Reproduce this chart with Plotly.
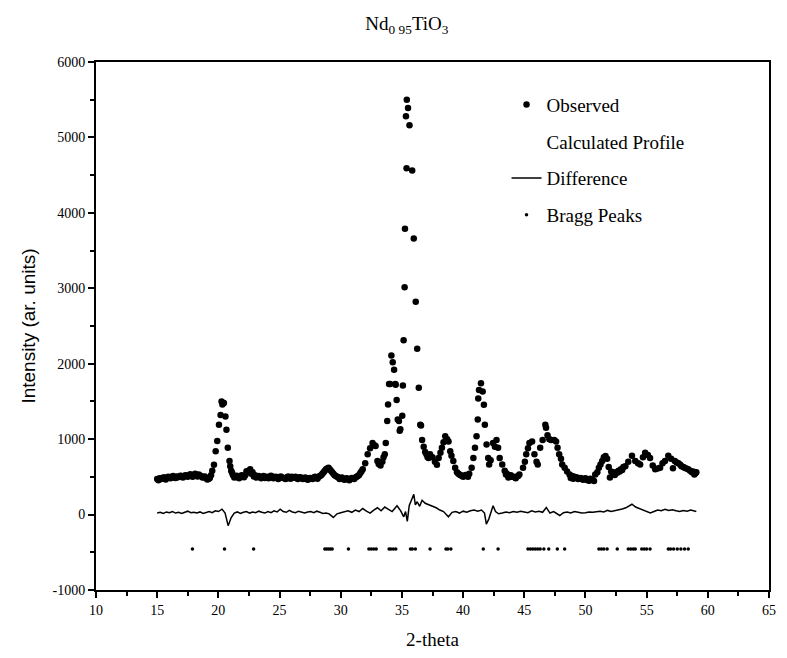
import plotly.graph_objects as go

# ---------------- data ----------------
obs_two_theta = [
    15.0, 15.2, 15.4, 15.6, 15.8, 16.0, 16.2, 16.4, 16.6, 16.8, 17.0, 17.2, 17.4, 17.6, 17.8,
    18.0, 18.2, 18.4, 18.6, 18.8, 19.0, 19.2, 19.4, 19.5,
    19.64, 19.78, 19.91, 20.05, 20.18, 20.26, 20.33, 20.45, 20.58, 20.66, 20.77, 20.91, 20.97,
    21.05, 21.12, 21.2, 21.4, 21.6, 21.8, 22.0, 22.2, 22.4, 22.6, 22.8, 23.0, 23.2, 23.4, 23.6,
    23.8, 24.0, 24.2, 24.4, 24.6, 24.8, 25.0, 25.2, 25.4, 25.6, 25.8, 26.0, 26.2, 26.4, 26.6,
    26.8, 27.0, 27.2, 27.4, 27.6, 27.8, 28.0, 28.2, 28.4, 28.6, 28.8, 29.0, 29.2, 29.4, 29.6,
    29.8, 30.0, 30.2, 30.4, 30.6, 30.8, 31.0, 31.2, 31.4, 31.6, 31.8, 32.0, 32.2, 32.4, 32.6,
    32.75, 32.85, 33.0, 33.1, 33.25, 33.4, 33.5, 33.6, 33.68, 33.8, 33.87, 33.95, 34.03, 34.14,
    34.25, 34.36, 34.46, 34.49, 34.57, 34.66, 34.76, 34.82, 34.87, 35.03, 35.08, 35.14, 35.22,
    35.25, 35.33, 35.38, 35.40, 35.50, 35.62, 35.84, 35.97, 36.13, 36.25, 36.38, 36.50, 36.56,
    36.65, 36.78, 36.9, 37.0, 37.1, 37.18, 37.3, 37.5, 37.7, 37.86, 38.0, 38.15, 38.27, 38.4,
    38.54, 38.7, 38.81, 38.95, 39.05, 39.2, 39.35, 39.5, 39.7, 39.9, 40.1, 40.3, 40.5, 40.7,
    40.84, 40.97, 41.1, 41.2, 41.24, 41.3, 41.46, 41.6, 41.7, 41.78, 41.92, 42.05, 42.13, 42.25,
    42.45, 42.6, 42.73, 42.86, 42.99, 43.2, 43.4, 43.6, 43.8, 44.0, 44.2, 44.35, 44.6, 44.9,
    45.05, 45.16, 45.3, 45.42, 45.64, 45.83, 46.0, 46.1, 46.3, 46.5, 46.72, 46.78, 46.9, 47.05,
    47.2, 47.45, 47.6, 47.72, 47.85, 48.0, 48.1, 48.3, 48.5, 48.7, 48.9, 49.1, 49.3, 49.5, 49.7,
    49.9, 50.1, 50.3, 50.55, 50.8, 50.97, 51.1, 51.23, 51.37, 51.5, 51.64, 51.77, 51.9, 52.1,
    52.3, 52.5, 52.7, 52.9, 53.1, 53.26, 53.5, 53.8, 54.07, 54.3, 54.47, 54.7, 54.88, 55.1,
    55.28, 55.5, 55.7, 55.9, 56.1, 56.3, 56.5, 56.77, 57.0, 57.3, 57.6, 57.85, 58.1, 58.4,
    58.7, 58.9, 59.06,
    # extra background readings (band is dense)
    15.1, 15.3, 15.5, 15.7, 15.9, 16.1, 16.3, 16.5, 16.7, 16.9, 17.1, 17.3, 17.5, 17.7, 17.9,
    18.1, 18.3, 18.5, 18.7, 18.9, 19.1, 19.3,
    21.3, 21.5, 21.7, 21.9, 22.1, 22.3, 22.5, 22.7, 22.9, 23.1, 23.3, 23.5, 23.7, 23.9, 24.1,
    24.3, 24.5, 24.7, 24.9, 25.1, 25.3, 25.5, 25.7, 25.9, 26.1, 26.3, 26.5, 26.7, 26.9, 27.1,
    27.3, 27.5, 27.7, 27.9, 28.1, 28.3, 28.5, 28.7, 28.9, 29.1, 29.3, 29.5, 29.7, 29.9, 30.1,
    30.3, 30.5, 30.7, 30.9, 31.1, 31.3, 31.5, 31.7, 39.6, 39.8, 40.0, 40.2, 40.4, 43.5, 43.7,
    43.9, 44.1, 44.3, 44.5, 48.8, 49.0, 49.2, 49.4, 49.6, 49.8, 50.0, 50.2, 50.4, 50.7,
    52.0, 52.2, 52.4, 52.6, 52.8, 53.0, 57.15, 57.45, 57.75, 58.0, 58.25, 58.55, 58.8, 59.0,
]
obs_intensity = [
    470, 480, 475, 490, 485, 495, 500, 490, 505, 500, 510, 505, 515, 520, 510,
    525, 515, 530, 510, 495, 480, 470, 520, 580,
    660, 840, 975, 1190, 1320, 1500, 1460, 1480, 1300, 1125, 885, 710, 640,
    580, 555, 520, 505, 490, 500, 510, 520, 560, 600, 560, 520, 505, 495, 500,
    485, 500, 490, 505, 495, 485, 495, 490, 480, 495, 485, 500, 490, 480, 490,
    485, 475, 480, 470, 480, 490, 485, 500, 520, 560, 600, 620, 580, 540, 510,
    495, 480, 470, 475, 465, 470, 480, 490, 510, 550, 600, 680, 800, 880, 950,
    920, 910, 710, 670, 650, 700, 760, 800, 950, 1240, 1460, 1730, 1730, 2110,
    2020, 1920, 1730, 1720, 1520, 1260, 1240, 1110, 1130, 1310, 1710, 2310, 3015,
    3790, 5280, 4590, 5500, 5390, 5160, 4560, 3660, 2820, 2200, 1680, 1190, 1180,
    990, 900, 830, 800, 760, 750, 800, 760, 700, 660, 750, 820, 885, 960,
    1040, 1000, 970, 840, 780, 710, 620, 560, 530, 515, 510, 515, 540, 620,
    750, 885, 1040, 1260, 1540, 1650, 1740, 1630, 1455, 1190, 930, 750, 665, 720,
    950, 900, 990, 885, 750, 665, 580, 540, 510, 500, 495, 500, 530, 620,
    700, 800, 880, 950, 970, 800, 700, 665, 885, 990, 1190, 1150, 1050, 1000,
    990, 990, 970, 885, 800, 740, 665, 620, 570, 530, 510, 500, 490, 480, 475,
    470, 460, 450, 460, 530, 560, 620, 665, 710, 760, 775, 740, 630, 570,
    540, 560, 580, 600, 630, 640, 700, 780, 710, 680, 665, 760, 820, 790,
    750, 650, 600, 610, 620, 680, 710, 780, 740, 710, 680, 640, 620, 600,
    560, 530, 560,
    # extra background readings
    455, 470, 490, 465, 500, 480, 510, 485, 495, 515, 490, 520, 500, 535, 500,
    540, 505, 515, 490, 505, 465, 485,
    490, 515, 480, 520, 495, 575, 580, 540, 505, 490, 510, 480, 510, 495, 480,
    515, 480, 500, 470, 505, 485, 470, 505, 475, 490, 500, 470, 495, 470, 490,
    460, 485, 470, 500, 475, 510, 540, 580, 610, 600, 560, 520, 500, 470, 490,
    460, 480, 455, 485, 470, 500, 525, 575, 545, 520, 500, 525, 500, 530, 490,
    520, 500, 480, 510, 485, 475, 495, 470, 485, 460, 480, 455, 475, 445, 490,
    560, 525, 555, 570, 590, 615, 690, 660, 630, 610, 580, 570, 550, 540,
]

diff_two_theta = [
    15.0, 15.25, 15.5, 15.75, 16.0, 16.25, 16.5, 16.75, 17.0, 17.25, 17.5, 17.75, 18.0, 18.25,
    18.5, 18.75, 19.0, 19.25, 19.5, 19.75, 20.0, 20.3, 20.55, 20.8, 21.05, 21.3, 21.55, 21.8,
    22.05, 22.3, 22.55, 22.8, 23.05, 23.3, 23.55, 23.8, 24.05, 24.3, 24.55, 24.8, 25.05, 25.3,
    25.55, 25.8, 26.05, 26.3, 26.55, 26.8, 27.05, 27.3, 27.55, 27.8, 28.05, 28.3, 28.55, 28.8,
    29.05, 29.4, 29.7, 30.0, 30.3, 30.6, 30.9, 31.2, 31.5, 31.8, 32.1, 32.4, 32.7, 33.0, 33.3,
    33.6, 33.9, 34.2, 34.6, 34.9, 35.15, 35.3, 35.44, 35.6, 35.8, 35.97, 36.1, 36.25, 36.45,
    36.65, 36.9, 37.2, 37.5, 37.8, 38.1, 38.4, 38.8, 39.1, 39.4, 39.7, 40.0, 40.3, 40.6, 40.9,
    41.2, 41.5, 41.75, 41.9, 42.1, 42.3, 42.45, 42.65, 42.9, 43.2, 43.5, 43.8, 44.1, 44.4,
    44.7, 45.0, 45.3, 45.6, 45.9, 46.2, 46.5, 46.8, 47.1, 47.4, 47.65, 47.9, 48.2, 48.5, 48.8,
    49.1, 49.4, 49.7, 50.0, 50.3, 50.6, 50.9, 51.2, 51.5, 51.8, 52.1, 52.4, 52.7, 53.0, 53.3,
    53.55, 53.8, 54.1, 54.4, 54.7, 55.0, 55.3, 55.6, 55.9, 56.2, 56.5, 56.8, 57.1, 57.4, 57.7,
    58.0, 58.3, 58.6, 58.9, 59.06,
]
diff_intensity = [
    20, 30, 15, 35, 25, 40, 20, 30, 15, 35, 45, 25, 30, 20,
    35, 15, 30, 40, 25, 50, 40, 72, 20, -147, -40, 20, 35, 15,
    30, 40, 20, 35, 25, 45, 30, 20, 40, 25, 50, 35, 72, 40,
    30, 55, 35, 25, 45, 30, 20, 35, 40, 25, 45, 30, 15, 20,
    10, -38, 10, 25, 35, 50, 30, 60, 40, 80, 45, 20, 60, 90, 50,
    100, 70, 40, 116, 50, -30, 40, -91, 120, 200, 269, 130, 170, 110,
    190, 150, 130, 120, 90, 60, 40, -29, 30, 40, 20, 45, 30, 50, 60,
    45, 60, 20, -126, -60, 60, 116, 40, 10, 20, 35, 25, 40, 30,
    45, 35, 25, 50, 35, 45, 30, 94, 20, 40, 10, -12, 25, 35, 20,
    40, 30, 20, 25, 35, 30, 40, 45, 35, 55, 40, 50, 60, 75, 90,
    110, 137, 100, 80, 55, 30, 20, 40, 60, 50, 70, 55, 65, 50, 40,
    55, 45, 60, 50, 40,
]

bragg_two_theta = [
    17.88, 20.5, 22.88, 28.7, 28.85, 29.0, 29.15, 29.3, 30.63, 32.3, 32.5, 32.7, 32.9,
    33.95, 34.1, 34.3, 34.5, 35.7, 35.85, 36.1, 37.3, 38.6, 38.75, 39.0, 41.65, 42.86,
    45.3, 45.5, 45.7, 45.9, 46.1, 46.3, 46.6, 47.0, 47.7, 48.3, 51.1, 51.3, 51.5, 51.77,
    52.6, 53.5, 53.7, 53.9, 54.07, 54.6, 54.8, 55.0, 55.28, 56.77, 56.95, 57.2, 57.5,
    57.8, 58.1, 58.4,
]
bragg_level = -455

x_ticks = [10, 15, 20, 25, 30, 35, 40, 45, 50, 55, 60, 65]
y_ticks = [-1000, 0, 1000, 2000, 3000, 4000, 5000, 6000]
y_tick_labels = ["-1000", "0", "1000", "2000", "3000", "4000", "5000", "6000"]

SERIF = "Liberation Serif, Times New Roman, serif"

fig = go.Figure()
fig.add_trace(go.Scatter(
    x=obs_two_theta, y=obs_intensity, mode="markers", name="Observed",
    marker=dict(color="black", size=6.5), legendgroup="a"))
fig.add_trace(go.Scatter(
    x=[None], y=[None], mode="lines", name="Calculated Profile",
    line=dict(color="rgba(0,0,0,0)", width=1), legendgroup="b"))
fig.add_trace(go.Scatter(
    x=diff_two_theta, y=diff_intensity, mode="lines", name="Difference",
    line=dict(color="black", width=1.5), legendgroup="c"))
fig.add_trace(go.Scatter(
    x=bragg_two_theta, y=[bragg_level] * len(bragg_two_theta), mode="markers",
    name="Bragg Peaks", marker=dict(color="black", size=3.5), legendgroup="d"))

axis_common = dict(
    showline=True, linecolor="black", linewidth=2, mirror=True,
    showgrid=False, zeroline=False, ticks="outside", ticklen=6, tickwidth=1.5,
    tickcolor="black", tickfont=dict(family=SERIF, size=14, color="black"),
)

fig.update_xaxes(
    range=[10, 65], tickvals=x_ticks, **axis_common,
    minor=dict(dtick=2.5, ticklen=4, ticks="outside", tickcolor="black", tickwidth=1.5),
    title=dict(text="2-theta", font=dict(family=SERIF, size=19, color="black"), standoff=16),
)
fig.update_yaxes(
    range=[-1000, 6000], tickvals=y_ticks, ticktext=y_tick_labels, **axis_common,
    minor=dict(dtick=500, ticklen=4, ticks="outside", tickcolor="black", tickwidth=1.5),
    title=dict(text="Intensity (ar. units)",
               font=dict(family="Liberation Sans Narrow, Liberation Sans, Arial", size=19, color="black"),
               standoff=12),
)

fig.update_layout(
    width=787, height=658,
    margin=dict(l=96, r=11, t=62, b=65),
    paper_bgcolor="white", plot_bgcolor="white",
    title=dict(text="Nd<sub>0 95</sub>TiO<sub>3</sub>", x=0.462, xref="paper", xanchor="center",
               y=0.965, yanchor="middle",
               font=dict(family=SERIF, size=19, color="black")),
    legend=dict(x=0.61, y=0.955, xanchor="left", yanchor="top",
                bgcolor="rgba(0,0,0,0)", borderwidth=0, tracegroupgap=9,
                font=dict(family=SERIF, size=19, color="black")),
    showlegend=True,
)

fig.write_html("out.html")
